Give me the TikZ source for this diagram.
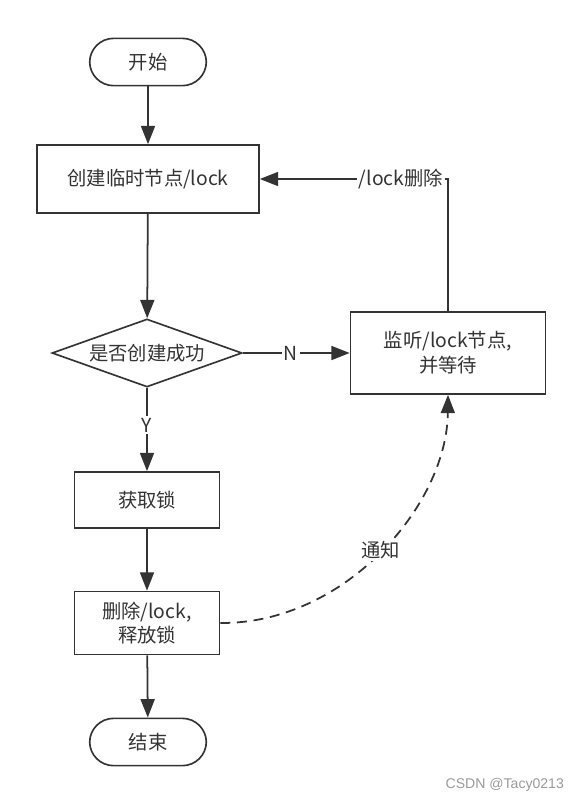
\documentclass[tikz,border=0pt]{standalone}
\usepackage{fontspec}
\setmainfont{Noto Sans CJK SC}
\newfontfamily\markfont{Liberation Sans}
\usetikzlibrary{shapes.geometric}
\usetikzlibrary{arrows.meta}

\definecolor{ink}{HTML}{333333}
\tikzset{
  startstop/.style={draw=ink, line width=1.4pt, rounded corners=0.72cm, minimum width=3.5cm, minimum height=1.42cm},
  process/.style={draw=ink, line width=1.4pt, align=center},
  decision/.style={draw=ink, line width=1.4pt, diamond, aspect=2.8, inner sep=0pt, minimum width=5.7cm, minimum height=2.04cm},
  flow/.style={draw=ink, line width=1.5pt, -{Triangle[length=0.55cm, width=0.42cm]}},
  tag/.style={fill=white, inner sep=1.5pt}
}

\begin{document}
\begin{tikzpicture}[x=0.03cm, y=-0.03cm, text=ink, font=\fontsize{16.5}{21}\selectfont]
\useasboundingbox (0,0) rectangle (582,802);
\node[startstop] (start) at (148,62) {开始};
\node[process, minimum width=6.66cm, minimum height=2.04cm] (create) at (148,179) {创建临时节点/lock};
\node[decision] (ok) at (147,353) {是否创建成功};
\node[process, minimum width=5.85cm, minimum height=2.46cm] (watch) at (448,353) {监听/lock节点,\\并等待};
\node[process, minimum width=4.35cm, minimum height=1.68cm] (get) at (147,500) {获取锁};
\node[process, minimum width=4.35cm, minimum height=1.89cm] (release) at (147,623) {删除/lock,\\释放锁};
\node[startstop] (stop) at (148,742) {结束};
\draw[flow] (start) -- (create);
\draw[flow] (create) -- (ok);
\draw[flow] (ok) -- node[tag, pos=0.45] (no) {N} (watch);
\draw[flow] (watch.north) |- node[tag, pos=0.625] (gone) {/lock删除} (create.east);
\draw[flow] (ok) -- node[tag, pos=0.45] (yes) {Y} (get);
\draw[flow] (get) -- (release);
\draw[flow] (release) -- (stop);
\draw[flow, dash pattern=on 0.3cm off 0.2cm] (release.east) .. controls (345,624) and (447,505) .. node[tag, pos=0.5] (notify) {通知} (watch.south); % wake-up
\node[text=gray!80, font=\markfont\fontsize{12}{14}\selectfont, anchor=east] (mark) at (568,785) {CSDN @Tacy0213};
\end{tikzpicture}
\end{document}
